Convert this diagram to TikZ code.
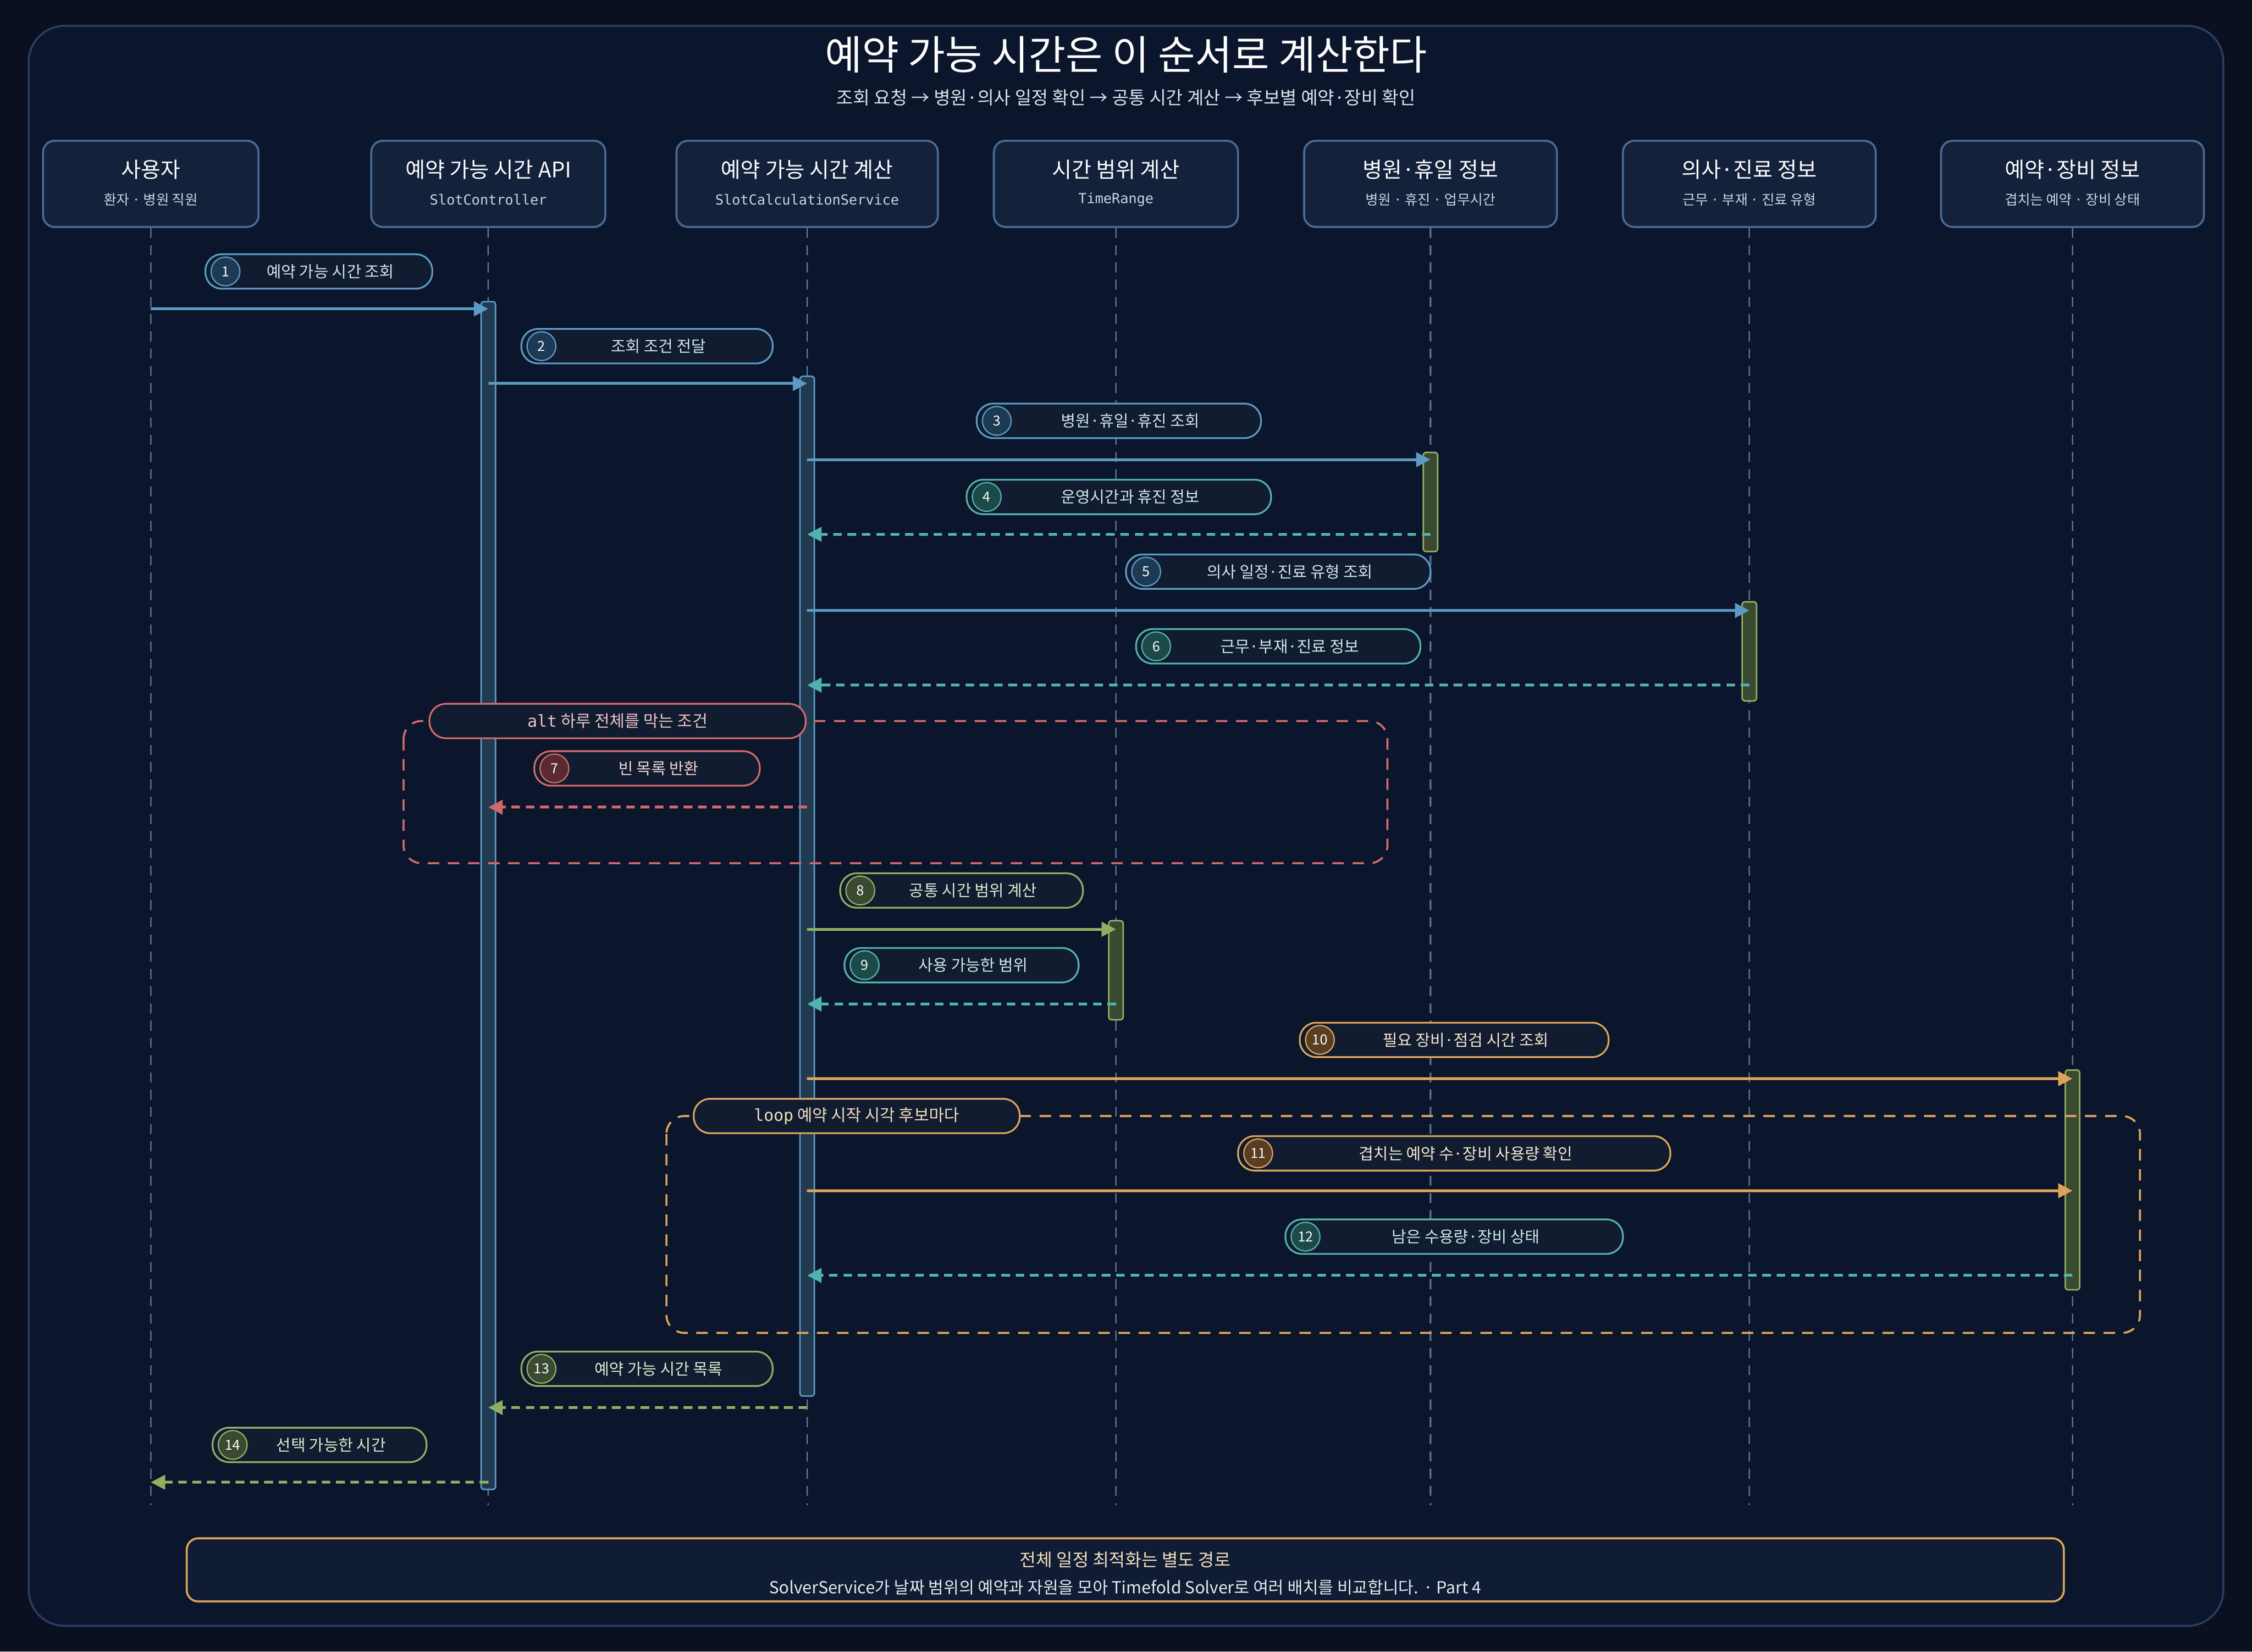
\documentclass[tikz,border=0pt]{standalone}
\usepackage{fontspec}
\setmainfont{Noto Sans CJK KR}
\setmonofont{DejaVu Sans Mono}
\usepackage{tikz}
\usetikzlibrary{arrows.meta}
\usetikzlibrary{positioning}

\definecolor{pagebg}{HTML}{0A1020}
\definecolor{framebg}{HTML}{0B152B}
\definecolor{framebd}{HTML}{2A3D60}
\definecolor{boxbg}{HTML}{13213B}
\definecolor{boxbd}{HTML}{4A6A94}
\definecolor{lifeln}{HTML}{5A6F90}
\definecolor{cblue}{HTML}{5B9AC4}
\definecolor{cteal}{HTML}{4FB3A9}
\definecolor{cred}{HTML}{D06A6A}
\definecolor{cgreen}{HTML}{8FAE62}
\definecolor{corange}{HTML}{D9A55A}
\definecolor{fblue}{HTML}{1D3A55}
\definecolor{fteal}{HTML}{1B4A48}
\definecolor{fred}{HTML}{5A2A30}
\definecolor{fgreen}{HTML}{3A4A30}
\definecolor{forange}{HTML}{5A3E22}
\definecolor{pillbg}{HTML}{111C30}
\definecolor{actbg}{HTML}{213A4F}

\tikzset{
    part/.style={draw=boxbd, fill=boxbg, line width=0.8pt, rounded corners=0.16cm, minimum height=1.2cm},
    act/.style={draw=cblue, fill=actbg, line width=0.6pt, rounded corners=0.04cm},
    actg/.style={draw=cgreen, fill=fgreen, line width=0.6pt, rounded corners=0.04cm},
    pill/.style={draw=#1, fill=pillbg, line width=0.7pt, rounded corners=0.23cm, minimum height=0.48cm, inner sep=0pt},
    num/.style={circle, draw=c#1, fill=f#1, line width=0.5pt, minimum size=0.4cm, inner sep=0pt, font=\fontsize{5.5}{6}\selectfont, text=white},
    msgsolid/.style={draw=#1, line width=1.1pt, -{Triangle[length=0.2cm,width=0.2cm]}},
    msgdash/.style={draw=#1, line width=1.1pt, dash pattern=on 0.12cm off 0.08cm, -{Triangle[length=0.2cm,width=0.2cm]}},
    frag/.style={draw=#1, line width=0.8pt, dash pattern=on 0.16cm off 0.12cm, rounded corners=0.25cm},
}

\begin{document}
\begin{tikzpicture}[x=0.02cm, y=-0.02cm]
    \useasboundingbox (0,0) rectangle (1568,1150);
    \fill[pagebg] (0,0) rectangle (1568,1150);
    \draw[framebd, fill=framebg, line width=0.8pt, rounded corners=0.5cm] (20,18) rectangle (1548,1132);

    \node[text=white, font=\fontsize{16}{19}\selectfont] (title) at (784,38) {예약 가능 시간은 이 순서로 계산한다};
    \node[text=white!80!boxbd, font=\fontsize{7.2}{9}\selectfont] (subtitle) at (784,68) {조회 요청 → 병원·의사 일정 확인 → 공통 시간 계산 → 후보별 예약·장비 확인};

    % participants
    \foreach \x/\w/\id/\t/\s/\f in {
        105/150/usr/사용자/환자 · 병원 직원/\rmfamily,
        340/163/api/예약 가능 시간 API/SlotController/\ttfamily,
        562/182/calc/예약 가능 시간 계산/SlotCalculationService/\ttfamily,
        777/170/range/시간 범위 계산/TimeRange/\ttfamily,
        996/176/hosp/병원·휴일 정보/병원 · 휴진 · 업무시간/\rmfamily,
        1218/176/doc/의사·진료 정보/근무 · 부재 · 진료 유형/\rmfamily,
        1443/183/res/예약·장비 정보/겹치는 예약 · 장비 상태/\rmfamily
    } {
        \node[part, minimum width=\w*0.02cm] (\id) at (\x,128) {};
        \node[text=white, font=\fontsize{8.5}{10}\selectfont] at (\x,118) {\t};
        \node[text=white!70!boxbd, font=\f\fontsize{5.5}{6}\selectfont] at (\x,139) {\s};
        \coordinate (\id end) at (\x,1048);
        \draw[lifeln, line width=0.6pt, dash pattern=on 0.14cm off 0.1cm] (\id.south) -- (\id end);
    }

    % activations
    \draw[act] (335,210) rectangle (345,1037);
    \draw[act] (557,262) rectangle (567,972);
    \draw[actg] (991,315) rectangle (1001,384);
    \draw[actg] (1213,419) rectangle (1223,488);
    \draw[actg] (772,641) rectangle (782,710);
    \draw[actg] (1438,745) rectangle (1448,898);

    % fragments
    \draw[frag=cred] (281,502) rectangle (966,601);
    \node[pill=cred, minimum width=262*0.02cm, text=cred!40!white, font=\fontsize{6.5}{8}\selectfont] (altlbl) at (430,502) {\texttt{alt} 하루 전체를 막는 조건};
    \draw[frag=corange] (464,777) rectangle (1490,928);
    \node[pill=corange, minimum width=227*0.02cm, text=corange!40!white, font=\fontsize{6.5}{8}\selectfont] (looplbl) at (596.5,777) {\texttt{loop} 예약 시작 시각 후보마다};

    % messages
    \foreach \n/\ly/\ay/\xa/\xb/\lx/\lw/\c/\k/\t in {
        1/189/215/105/340/143/158/blue/msgsolid/예약 가능 시간 조회,
        2/241/267/340/562/363/175/blue/msgsolid/조회 조건 전달,
        3/293/320/562/996/680/198/blue/msgsolid/병원·휴일·휴진 조회,
        4/346/372/996/562/673/212/teal/msgdash/운영시간과 휴진 정보,
        5/398/425/562/1218/784/212/blue/msgsolid/의사 일정·진료 유형 조회,
        6/450/477/1218/562/791/198/teal/msgdash/근무·부재·진료 정보,
        7/535/562/562/340/372/157/red/msgdash/빈 목록 반환,
        8/620/647/562/777/585/169/green/msgsolid/공통 시간 범위 계산,
        9/672/699/777/562/588/163/teal/msgdash/사용 가능한 범위,
        10/724/751/562/1443/905/215/orange/msgsolid/필요 장비·점검 시간 조회,
        11/803/829/562/1443/862/301/orange/msgsolid/겹치는 예약 수·장비 사용량 확인,
        12/861/888/1443/562/895/235/teal/msgdash/남은 수용량·장비 상태,
        13/953/980/562/340/363/175/green/msgdash/예약 가능 시간 목록,
        14/1006/1032/340/105/148/149/green/msgdash/선택 가능한 시간
    } {
        \pgfmathsetmacro{\cx}{\lx+\lw/2}
        \pgfmathsetmacro{\tx}{\lx+\lw/2+8}
        \pgfmathsetmacro{\nx}{\lx+14}
        \node[pill=c\c, minimum width=\lw*0.02cm] (lbl\n) at (\cx,\ly) {};
        \node[num=\c] (num\n) at (\nx,\ly) {\n};
        \node[text=c\c!30!white, font=\fontsize{6.3}{8}\selectfont] (txt\n) at (\tx,\ly) {\t};
        \coordinate (from\n) at (\xa,\ay);
        \coordinate (to\n) at (\xb,\ay);
        \draw[\k=c\c] (from\n) -- (to\n);
    }

    % footer
    \node[draw=corange, fill=boxbg!70!pagebg, line width=0.8pt, rounded corners=0.16cm, minimum width=1307*0.02cm, minimum height=44*0.02cm] (note) at (783.5,1093) {};
    \node[text=corange!40!white, font=\fontsize{7}{9}\selectfont] at (783.5,1086) {전체 일정 최적화는 별도 경로};
    \node[text=white!85!boxbd, font=\fontsize{6.6}{9}\selectfont] at (783.5,1105) {SolverService가 날짜 범위의 예약과 자원을 모아 Timefold Solver로 여러 배치를 비교합니다. · Part 4};
\end{tikzpicture}
\end{document}
